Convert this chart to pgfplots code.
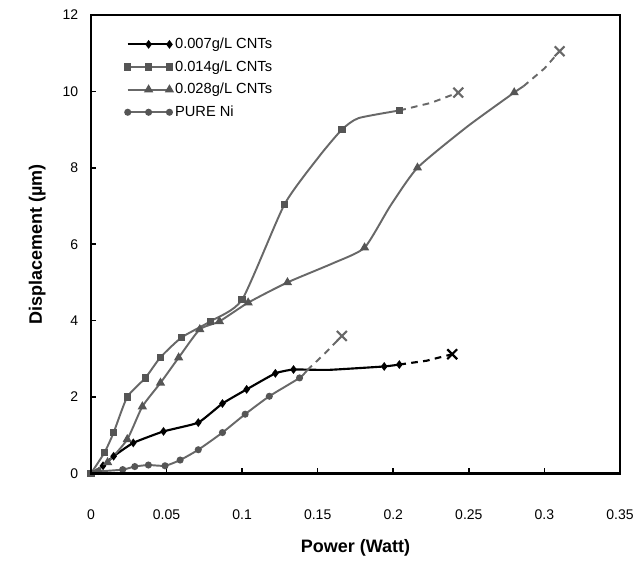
\documentclass[border=0pt]{standalone}
\usepackage{fontspec}
\setmainfont{Liberation Sans}
\usepackage{pgfplots}
\pgfplotsset{compat=1.18}

\definecolor{lgray}{HTML}{686868}
\definecolor{mgray}{HTML}{555555}

\begin{document}
\begin{tikzpicture}
\begin{axis}[
    name=ax,
    scale only axis,
    width=397pt, height=344pt,
    xmin=0, xmax=0.35, ymin=0, ymax=12,
    xtick={0,0.05,...,0.35},
    ytick={0,2,...,12},
    xtick pos=bottom, ytick pos=left,
    tick align=inside,
    major tick length=4pt,
    every tick/.style={black, line width=1.2pt},
    axis line style={black, line width=1.6pt},
    /pgf/number format/assume math mode=true,
    /pgf/number format/fixed,
    xticklabel style={font=\fontsize{10.5}{12}\selectfont, yshift=-24pt},
    yticklabel style={font=\fontsize{10.5}{12}\selectfont, xshift=-6pt},
    xlabel={\bfseries Power (Watt)},
    ylabel={\bfseries Displacement (µm)},
    label style={font=\fontsize{13.5}{15}\selectfont},
    xlabel style={yshift=-8pt},
    ylabel style={yshift=6pt},
    legend style={draw=none, fill=none, at={(0.064,0.956)}, anchor=north west,
        font=\fontsize{11}{13}\selectfont, row sep=3.5pt, inner sep=0pt},
    legend cell align=left,
    legend image code/.code={\draw[mark repeat=2,mark phase=2] plot coordinates {(0cm,0cm) (0.55cm,0cm) (1.1cm,0cm)};},
]
% 0.007 g/L CNTs
\addplot[black, line width=1.6pt, smooth, tension=0.25, mark=diamond*, mark size=2pt,
    mark indices={2,3,4,5,6,7,8,9,10,12,13}] coordinates {
    (0,0) (0.008,0.2) (0.015,0.45) (0.028,0.8) (0.048,1.1) (0.071,1.33) (0.087,1.83)
    (0.103,2.2) (0.122,2.62) (0.134,2.72) (0.157,2.71) (0.194,2.8) (0.204,2.85)};
\addlegendentry{0.007g/L CNTs}
% 0.014 g/L CNTs
\addplot[lgray, line width=1.45pt, smooth, tension=0.35, mark=square*, mark size=2pt,
    mark options={mgray}, mark indices={1,2,3,4,5,6,7,8,9,10,12,14}] coordinates {
    (0,0) (0.009,0.55) (0.015,1.07) (0.024,2.0) (0.036,2.5) (0.046,3.04) (0.06,3.56)
    (0.079,3.98) (0.1,4.55) (0.128,7.04) (0.151,8.3) (0.166,9.0) (0.177,9.3) (0.204,9.5)};
\addlegendentry{0.014g/L CNTs}
% 0.028 g/L CNTs
\addplot[lgray, line width=1.45pt, smooth, tension=0.35, mark=triangle*, mark size=2.6pt,
    mark options={mgray}, mark indices={2,3,4,5,6,7,8,9,10,12,14,16}] coordinates {
    (0,0) (0.011,0.29) (0.024,0.89) (0.034,1.75) (0.046,2.37) (0.058,3.03) (0.072,3.77)
    (0.085,3.98) (0.104,4.47) (0.130,5.0) (0.160,5.5) (0.181,5.91) (0.198,7.0)
    (0.216,8.0) (0.249,9.08) (0.28,9.97) (0.286,10.13)};
\addlegendentry{0.028g/L CNTs}
% PURE Ni
\addplot[lgray, line width=1.45pt, smooth, tension=0.35, mark=*, mark size=1.9pt,
    mark options={mgray}, mark indices={1,2,3,4,5,6,7,8,9,10,11,12}] coordinates {
    (0,0) (0.005,0.05) (0.021,0.1) (0.029,0.18) (0.038,0.22) (0.049,0.2) (0.059,0.35)
    (0.071,0.62) (0.087,1.07) (0.102,1.55) (0.118,2.02) (0.138,2.5) (0.143,2.7)};
\addlegendentry{PURE Ni}

% dashed extensions to failure points
\addplot[black, line width=1.6pt, dash pattern=on 5pt off 4pt, forget plot] coordinates {
    (0.204,2.85) (0.222,2.95) (0.239,3.12)};
\addplot[lgray, line width=1.45pt, dash pattern=on 5pt off 4pt, forget plot] coordinates {
    (0.204,9.5) (0.225,9.7) (0.243,9.97)};
\addplot[lgray, line width=1.45pt, dash pattern=on 5pt off 4pt, forget plot] coordinates {
    (0.286,10.13) (0.30,10.6) (0.31,11.05)};
\addplot[lgray, line width=1.45pt, dash pattern=on 5pt off 4pt, forget plot] coordinates {
    (0.143,2.7) (0.155,3.15) (0.166,3.6)};
% failure marks
\addplot[black, only marks, mark=x, mark size=5.2pt, mark options={line width=1.6pt}, forget plot]
    coordinates {(0.239,3.12)};
\addplot[lgray, only marks, mark=x, mark size=5.2pt, mark options={line width=1.6pt}, forget plot]
    coordinates {(0.243,9.97) (0.31,11.05) (0.166,3.6)};
\end{axis}
\draw[black, line width=1.8pt] (ax.south west) rectangle (ax.north east);
\path ([xshift=-68.25pt, yshift=-72.75pt]ax.south west) rectangle ([xshift=15pt, yshift=11.25pt]ax.north east);
\end{tikzpicture}
\end{document}
